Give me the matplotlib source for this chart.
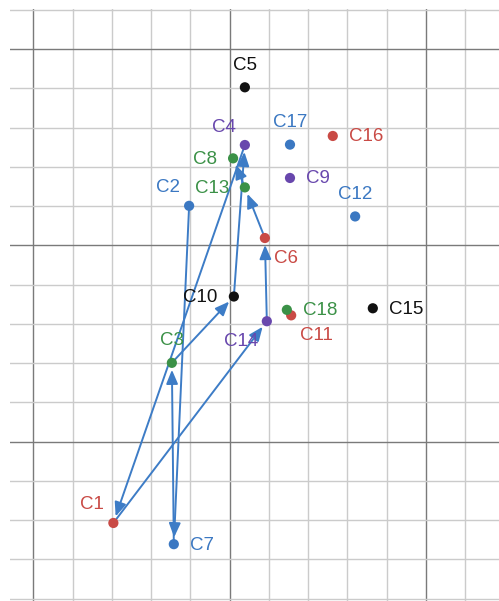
import matplotlib.pyplot as plt
import numpy as np

# point names and their positions (grid units, one minor cell = 1)
names = ['C1', 'C2', 'C3', 'C4', 'C5', 'C6', 'C7', 'C8', 'C9',
         'C10', 'C11', 'C12', 'C13', 'C14', 'C15', 'C16', 'C17', 'C18']
xs = [2.04, 3.97, 3.53, 5.39, 5.39, 5.90, 3.58, 5.09, 6.54,
      5.11, 6.57, 8.20, 5.39, 5.95, 8.65, 7.63, 6.54, 6.46]
ys = [-2.07, 6.01, 2.01, 7.56, 9.03, 5.19, -2.61, 7.22, 6.72,
      3.70, 3.22, 5.74, 6.48, 3.07, 3.40, 7.79, 7.57, 3.36]

# order in which the arrows connect the points
path = ['C2', 'C7', 'C3', 'C10', 'C4', 'C1', 'C14', 'C6', 'C13', 'C8']

# desmos-like colour cycle: red, blue, green, purple, black
palette = ['#c94a45', '#3b78c2', '#3b9147', '#6847ad', '#111111']
arrow_color = '#3d7cc6'

# where each label sits relative to its point
label_side = ['ul', 'ul', 'u', 'ul', 'u', 'dr', 'r', 'l', 'r',
              'l', 'dr', 'u', 'l', 'dl', 'r', 'r', 'u', 'r']

side_style = {
    'u':  dict(xytext=(0, 22), ha='center', va='center'),
    'r':  dict(xytext=(16, -1), ha='left', va='center'),
    'l':  dict(xytext=(-16, -1), ha='right', va='center'),
    'ul': dict(xytext=(-9, 18), ha='right', va='center'),
    'dl': dict(xytext=(-9, -20), ha='right', va='center'),
    'dr': dict(xytext=(9, -20), ha='left', va='center'),
}


def main():
    plt.rcParams['font.family'] = ['Liberation Sans', 'DejaVu Sans']

    fig = plt.figure(figsize=(4.99, 6.01), dpi=100)
    ax = fig.add_axes([10 / 499, 0, 489 / 499, 592 / 601])

    unit = 39.25  # pixels per grid cell
    ax.set_xlim(-23.3 / unit, -23.3 / unit + 489 / unit)
    ax.set_ylim(11.025 - 592 / unit, 11.025)

    # grid: light minor lines, darker every fifth
    ax.set_xticks([0, 5, 10])
    ax.set_xticks(np.arange(0, 12), minor=True)
    ax.set_yticks([0, 5, 10])
    ax.set_yticks(np.arange(-4, 12), minor=True)
    ax.grid(which='minor', color='#cbcbcb', lw=1.0)
    ax.grid(which='major', color='#7a7a7a', lw=1.0)
    ax.tick_params(which='both', length=0, labelbottom=False, labelleft=False)
    for s in ax.spines.values():
        s.set_visible(False)
    ax.set_axisbelow(True)

    pos = {n: (x, y) for n, x, y in zip(names, xs, ys)}

    # arrows along the path
    for a, b in zip(path[:-1], path[1:]):
        ax.annotate('', xy=pos[b], xytext=pos[a], zorder=2,
                    arrowprops=dict(arrowstyle='-|>,head_length=0.6,head_width=0.25',
                                    mutation_scale=14, color=arrow_color, lw=1.4,
                                    shrinkA=0, shrinkB=5))

    colors = [palette[i % 5] for i in range(len(names))]
    ax.scatter(xs, ys, c=colors, s=54, zorder=3, linewidths=0)

    for n, x, y, c, side in zip(names, xs, ys, colors, label_side):
        st = side_style[side]
        ax.annotate(n, (x, y), xytext=st['xytext'], textcoords='offset pixels',
                    ha=st['ha'], va=st['va'], color=c, fontsize=13.5, zorder=4)

    fig.savefig('out.png', dpi=100)


if __name__ == '__main__':
    main()
